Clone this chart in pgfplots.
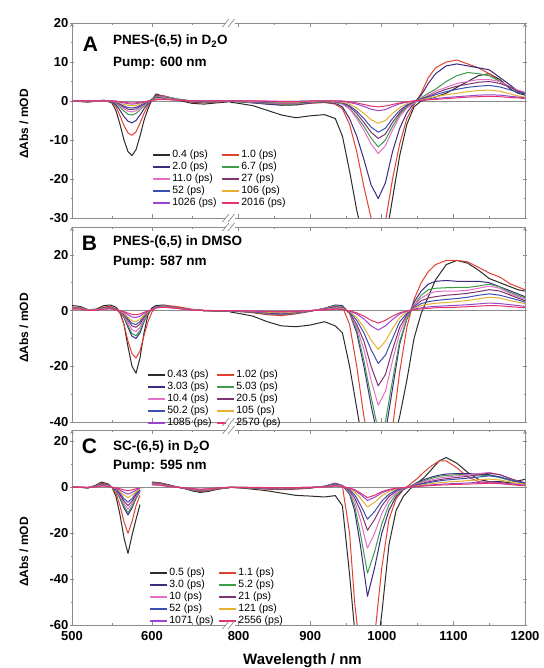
\documentclass[border=0pt]{standalone}
\usepackage{fontspec}
\setmainfont{Liberation Sans}
\usepackage{pgfplots}
\usepackage{pgfplotstable}
\pgfplotsset{compat=1.18}

\definecolor{axisgray}{HTML}{8C8C8C}
\definecolor{sA}{HTML}{2B2B2B}
\definecolor{sB}{HTML}{E2412F}
\definecolor{sC}{HTML}{3B2A80}
\definecolor{sD}{HTML}{3E9B4A}
\definecolor{sE}{HTML}{E56FC8}
\definecolor{sF}{HTML}{7E3470}
\definecolor{sG}{HTML}{3A4FB0}
\definecolor{sH}{HTML}{E6B030}
\definecolor{sI}{HTML}{9A45D0}
\definecolor{sJ}{HTML}{E4336F}

% panel A: PNES-(6,5) in D2O
\pgfplotstableread[row sep=\\]{
wl a b c d e f g h i j \\
500 0 0 0 0 0 0 0 0 0 0 \\
520 -0.3 -0.2 -0.1 -0.1 0 0 0 0 0 0 \\
540 0.2 0.2 0.1 0.1 0.1 0.1 0.1 0 0 0 \\
550 -0.5 -0.3 -0.2 -0.1 -0.1 0 0 0 0 0 \\
555 -2.5 -1.5 -1 -0.6 -0.5 -0.4 -0.3 -0.2 -0.1 0 \\
560 -6 -3.8 -2.4 -1.6 -1.2 -0.9 -0.8 -0.5 -0.3 -0.2 \\
565 -10 -6.3 -4 -2.6 -2 -1.6 -1.3 -0.9 -0.5 -0.3 \\
570 -13 -8.2 -5.2 -3.4 -2.6 -2.1 -1.7 -1.1 -0.7 -0.45 \\
575 -14 -8.8 -5.6 -3.6 -2.8 -2.2 -1.8 -1.2 -0.8 -0.5 \\
580 -12.5 -7.9 -5 -3.2 -2.5 -2 -1.6 -1.1 -0.7 -0.45 \\
585 -9 -5.7 -3.6 -2.3 -1.8 -1.4 -1.2 -0.8 -0.5 -0.3 \\
590 -5 -3.2 -2 -1.3 -1 -0.8 -0.6 -0.4 -0.3 -0.2 \\
595 -2 -1.2 -0.7 -0.4 -0.3 -0.2 -0.2 -0.1 -0.1 0 \\
600 0.3 0.4 0.5 0.5 0.4 0.4 0.3 0.2 0.1 0.1 \\
605 1.8 1.5 1.3 1.2 1 0.9 0.8 0.6 0.4 0.3 \\
615 1.2 1.3 1.2 1.2 1.1 1 0.9 0.8 0.6 0.4 \\
630 0.3 0.5 0.5 0.6 0.5 0.4 0.4 0.3 0.2 0.2 \\
650 -0.6 -0.3 -0.2 0 0 0 0 0 0 0 \\
665 -0.8 -0.5 -0.3 -0.3 -0.2 -0.1 -0.1 0 0 0 \\
680 -0.5 -0.3 -0.2 -0.2 -0.1 0 0 0 0 0 \\
697 -0.2 0 0 0 0 0 0 0 0 0 \\
740 nan nan nan nan nan nan nan nan nan nan \\
788 -0.3 0 0 0 0 0 0 0 0 0 \\
800 -0.6 -0.2 -0.2 -0.2 -0.1 -0.1 -0.1 0 0 0 \\
820 -1.2 -0.4 -0.5 -0.4 -0.3 -0.2 -0.2 -0.1 0 0 \\
840 -2.4 -0.8 -0.8 -0.6 -0.5 -0.4 -0.3 -0.2 -0.1 0 \\
860 -3.6 -1 -1.1 -0.8 -0.6 -0.5 -0.4 -0.3 -0.1 -0.1 \\
880 -4.3 -1 -1 -0.8 -0.6 -0.5 -0.4 -0.3 -0.1 -0.1 \\
900 -3.8 -0.6 -0.5 -0.4 -0.3 -0.2 -0.2 -0.1 0 0 \\
920 -3.5 -0.4 -0.3 -0.2 -0.1 0 0 0 0 0 \\
935 -4.5 -0.8 -0.6 -0.4 -0.3 -0.2 -0.1 -0.1 0 0 \\
945 -9 -2 -1.5 -0.8 -0.7 -0.5 -0.4 -0.3 -0.1 0 \\
955 -18 -6 -4.5 -2 -2 -1.5 -1.2 -0.8 -0.4 -0.2 \\
965 -28 -13 -9 -4 -4.5 -3.2 -2.6 -1.8 -0.8 -0.5 \\
975 -36 -22 -15 -6.5 -7.5 -5.5 -4.5 -3.2 -1.4 -0.9 \\
985 -40 -30 -21.5 -9.5 -11 -8 -6.7 -4.8 -2.1 -1.3 \\
995 -40 -36 -25 -11.8 -13.5 -9.6 -8 -5.7 -2.5 -1.5 \\
1005 -36 -31 -21 -10 -11.5 -8.5 -7 -5 -2.2 -1.3 \\
1015 -25 -20 -13 -6.5 -7.5 -5.5 -4.5 -3.2 -1.4 -0.9 \\
1025 -14 -11 -7 -3.5 -4 -3 -2.4 -1.7 -0.7 -0.5 \\
1035 -6 -4.5 -3 -1.5 -1.8 -1.2 -1 -0.7 -0.3 -0.2 \\
1045 -1.5 -1 -0.5 -0.3 -0.5 -0.2 -0.1 0 0 0 \\
1055 0 2 1.5 0.8 0.5 0.5 0.4 0.3 0.2 0.1 \\
1065 0.5 6 4.5 2 1.5 1.2 1 0.7 0.4 0.3 \\
1075 1 8.5 7 3 2.5 2 1.6 1.1 0.6 0.4 \\
1090 2 10 9 5 3.5 3 2.4 1.6 0.9 0.6 \\
1105 3.5 10.5 9.5 6.5 4.5 3.8 3 2 1.1 0.8 \\
1120 5 9.5 9 7.3 5 4.3 3.5 2.4 1.3 1 \\
1135 6.5 8.5 8.5 7 5.5 4.8 3.8 2.7 1.5 1.1 \\
1150 7 7 8 6.5 5.5 5 4 2.8 1.6 1.2 \\
1165 5.5 5 6 5 5 4.5 3.6 2.5 1.5 1.1 \\
1180 3 3.5 4 3.5 3.5 3.5 2.8 1.8 1.2 0.9 \\
1190 2 2.5 2.5 2.5 2.8 2.5 2.2 1.3 1 0.8 \\
1200 1.5 2 2 2 2.2 2 1.8 1 0.8 0.6 \\
}\tabA

% panel B: PNES-(6,5) in DMSO
\pgfplotstableread[row sep=\\]{
wl a b c d e f g h i j \\
500 1.8 1.2 1 1 0.9 0.8 0.8 0.7 0.6 0.5 \\
510 1.5 1.2 1 1 0.9 0.8 0.8 0.7 0.6 0.5 \\
520 0.3 0.3 0.3 0.3 0.2 0.2 0.2 0.2 0.1 0.1 \\
530 0.5 0.4 0.3 0.3 0.3 0.2 0.2 0.2 0.1 0.1 \\
540 1.8 1.3 1 1 0.9 0.8 0.8 0.7 0.6 0.5 \\
548 2 1.5 1.2 1.1 1 0.9 0.9 0.8 0.7 0.6 \\
555 1.2 0.6 0.5 0.5 0.4 0.4 0.4 0.3 0.3 0.2 \\
560 -0.5 -1 -0.5 -0.45 -0.4 -0.3 -0.25 -0.2 -0.1 -0.1 \\
565 -5 -5 -2.5 -2.2 -1.9 -1.5 -1.2 -1 -0.6 -0.4 \\
570 -13 -11 -6 -5.4 -4.5 -3.6 -3 -2.4 -1.5 -0.9 \\
575 -20 -15.5 -9.2 -8.3 -6.9 -5.5 -4.6 -3.7 -2.3 -1.4 \\
580 -22.5 -17 -10 -9 -7.5 -6 -5 -4 -2.5 -1.5 \\
585 -17 -14.5 -8 -7.2 -6 -4.8 -4 -3.2 -2 -1.2 \\
590 -8 -9 -4 -3.6 -3 -2.4 -2 -1.6 -1 -0.6 \\
595 -1.5 -4 -1 -0.9 -0.7 -0.6 -0.5 -0.4 -0.3 -0.2 \\
600 1 -0.5 0.5 0.5 0.5 0.5 0.5 0.4 0.4 0.3 \\
605 1.8 1.2 1.4 1.4 1.3 1.2 1.2 1.1 1 0.9 \\
615 2 1.8 1.7 1.7 1.6 1.5 1.5 1.4 1.3 1.2 \\
630 1.2 1.5 1.1 1.1 1 1 0.9 0.9 0.8 0.8 \\
650 0.3 0.5 0.3 0.3 0.3 0.3 0.3 0.3 0.2 0.2 \\
665 0 0.1 0 0 0 0 0 0 0 0 \\
680 -0.2 0 -0.1 -0.1 0 0 0 0 0 0 \\
697 -0.3 -0.2 -0.2 -0.2 -0.1 -0.1 0 0 0 0 \\
740 nan nan nan nan nan nan nan nan nan nan \\
788 -0.5 0 0 0 0 0 0 0 0 0 \\
800 -1 -0.3 -0.3 -0.3 -0.2 -0.2 -0.2 -0.1 -0.1 -0.1 \\
820 -2 -0.8 -0.6 -0.6 -0.5 -0.5 -0.4 -0.3 -0.2 -0.1 \\
840 -4 -1.5 -1.2 -1.1 -1 -0.9 -0.8 -0.6 -0.4 -0.3 \\
860 -5.5 -1.8 -1.5 -1.4 -1.3 -1.2 -1 -0.8 -0.5 -0.4 \\
880 -5.8 -1.2 -1 -0.9 -0.8 -0.7 -0.6 -0.5 -0.3 -0.2 \\
900 -5.2 -0.3 -0.2 -0.2 -0.1 -0.1 -0.1 0 0 0 \\
920 -4 0.8 0.8 0.7 0.7 0.6 0.5 0.4 0.3 0.2 \\
935 -5.5 1.8 2 1.8 1.5 1.4 1.2 1 0.7 0.5 \\
945 -8 1.5 1.8 1.5 1.2 1.1 1 0.8 0.5 0.4 \\
955 -20 -5 -1 -1 -1 -0.8 -0.5 -0.3 -0.2 -0.1 \\
965 -35 -20 -8 -7 -6 -5 -3.5 -2.5 -1.2 -0.8 \\
975 -50 -38 -20 -18 -14 -11 -8 -6 -3 -2 \\
985 -60 -52 -34 -31 -25 -20 -14 -10.5 -5.5 -3.5 \\
995 -62 -58 -46 -43 -34 -27 -19 -14 -7 -4.5 \\
1005 -60 -55 -44 -40 -29 -23 -16 -11 -5.5 -3.5 \\
1015 -48 -42 -28 -25 -18 -14 -10 -6.5 -3.2 -2 \\
1025 -38 -22 -12 -11 -8 -6 -4 -2.5 -1.2 -0.8 \\
1035 -25 -6 -3 -3 -2 -1.5 -1 -0.5 -0.2 -0.1 \\
1045 -10 4 3 2 2 1.5 1 0.8 0.5 0.3 \\
1055 -1 10 7 5.5 4.5 3.5 2.5 1.8 1 0.6 \\
1065 5 14 9.5 7.5 6 4.5 3.2 2.3 1.3 0.8 \\
1075 11 16.5 10.5 8 6.8 5 3.6 2.6 1.5 1 \\
1090 16.5 18 10.8 8.2 7 5.5 4 2.9 1.7 1.1 \\
1105 18 18 10.5 8.3 7 5.8 4.3 3.2 1.9 1.2 \\
1120 17 17.5 10.5 8.3 7.3 6.2 4.8 3.6 2.1 1.4 \\
1135 14.5 15.5 10.5 8.8 8 6.8 5.5 4.2 2.4 1.6 \\
1150 11.5 13.5 10 9.5 8.8 7.5 6 4.8 2.7 1.8 \\
1165 10 12 8.5 8.5 8 7 5.5 4.5 2.5 1.7 \\
1180 8.5 9.5 7 6.5 6 5.5 4.5 3.5 2.1 1.4 \\
1190 7.5 8.5 6 5.5 5 4.5 3.8 3 1.8 1.2 \\
1200 7 7.5 5 4.5 4 3.5 3 2.5 1.5 1 \\
}\tabB

% panel C: SC-(6,5) in D2O
\pgfplotstableread[row sep=\\]{
wl a b c d e f g h i j \\
500 0.3 0.2 0.1 0.1 0.1 0 0 0 0 0 \\
510 0 0 0 0 0 0 0 0 0 0 \\
520 -0.3 -0.2 -0.1 -0.1 -0.1 -0.1 -0.1 0 0 0 \\
530 1 0.8 0.7 0.6 0.6 0.5 0.5 0.4 0.3 0.2 \\
537 2.3 1.8 1.5 1.4 1.3 1.2 1.1 1 0.8 0.6 \\
545 1.5 1.2 1 0.9 0.8 0.8 0.7 0.6 0.5 0.4 \\
550 0 0 0 0 0 0 0 0 0 0 \\
555 -4 -2.5 -1.4 -1.3 -1.1 -1 -0.8 -0.5 -0.4 -0.2 \\
560 -12 -8 -4.8 -4.4 -3.8 -3.2 -2.6 -1.8 -1.2 -0.6 \\
565 -22 -15 -9 -8.3 -7.1 -6 -4.9 -3.4 -2.2 -1.1 \\
570 -28.8 -20 -12 -11 -9.5 -8 -6.5 -4.5 -3 -1.5 \\
575 -21 -15 -9 -8.3 -7.1 -6 -4.9 -3.4 -2.2 -1.1 \\
580 -14 -8 -4.8 -4.4 -3.8 -3.2 -2.6 -1.8 -1.2 -0.6 \\
585 -7.5 -3.5 -1.8 -1.6 -1.4 -1.2 -1 -0.7 -0.4 -0.2 \\
592 nan nan nan nan nan nan nan nan nan nan \\
600 2.3 2.2 2 1.9 1.8 1.7 1.6 1.5 1.3 1.1 \\
610 2 1.9 1.7 1.6 1.5 1.4 1.3 1.2 1 0.9 \\
620 1.2 1.1 1 0.9 0.8 0.8 0.7 0.6 0.5 0.4 \\
630 0.3 0.3 0.2 0.2 0.2 0.2 0.1 0.1 0.1 0 \\
640 -0.5 -0.4 -0.4 -0.3 -0.3 -0.3 -0.3 -0.2 -0.2 -0.2 \\
650 -1.5 -1.2 -1.1 -1 -0.9 -0.8 -0.8 -0.7 -0.6 -0.5 \\
660 -2.2 -1.8 -1.6 -1.5 -1.4 -1.3 -1.2 -1.1 -0.9 -0.8 \\
670 -1.8 -1.5 -1.3 -1.2 -1.1 -1 -1 -0.9 -0.7 -0.6 \\
680 -1 -0.8 -0.7 -0.6 -0.6 -0.5 -0.5 -0.4 -0.3 -0.3 \\
690 -0.4 -0.3 -0.3 -0.2 -0.2 -0.2 -0.2 -0.1 -0.1 -0.1 \\
697 -0.2 -0.1 0 0 0 0 0 0 0 0 \\
740 nan nan nan nan nan nan nan nan nan nan \\
788 0 0 0 0 0 0 0 0 0 0 \\
800 -0.2 -0.1 -0.1 -0.1 -0.1 0 0 0 0 0 \\
820 -0.8 -0.4 -0.3 -0.3 -0.2 -0.2 -0.1 -0.1 -0.1 0 \\
840 -1.5 -0.8 -0.6 -0.5 -0.4 -0.4 -0.3 -0.2 -0.2 -0.1 \\
860 -2.5 -1 -0.8 -0.7 -0.6 -0.5 -0.4 -0.3 -0.2 -0.2 \\
880 -3.5 -0.8 -0.6 -0.5 -0.4 -0.4 -0.3 -0.2 -0.1 -0.1 \\
900 -3.8 -0.4 -0.2 -0.2 -0.1 -0.1 0 0 0 0 \\
920 -4.2 0.5 0.5 0.4 0.4 0.3 0.3 0.2 0.2 0.1 \\
935 -3.6 1.8 1.8 1.6 1.5 1.4 1.2 1 0.8 0.6 \\
945 -8 0.5 0.8 0.8 0.8 0.7 0.6 0.5 0.4 0.3 \\
955 -38 -20 -3 -2.5 -2 -1.5 -1 -0.6 -0.4 -0.3 \\
962 -62 -50 -10 -8 -6 -4.5 -3.2 -2 -1.3 -1 \\
970 -80 -72 -25 -20 -14 -10 -7.5 -4.6 -3 -2.4 \\
980 -85 -80 -47.5 -37.4 -26.5 -18.7 -13.9 -8.6 -5.7 -4.5 \\
990 -80 -65 -35 -28 -20 -14 -10.5 -6.5 -4.3 -3.4 \\
1000 -55 -35 -20 -16 -11.5 -8 -6 -3.7 -2.4 -1.9 \\
1010 -25 -14 -10 -7.5 -5.5 -4 -3 -1.8 -1.2 -0.9 \\
1020 -10 -5 -4 -3 -2.2 -1.6 -1.2 -0.7 -0.5 -0.4 \\
1030 -4 -1 -1 -0.8 -0.6 -0.4 -0.3 -0.2 -0.1 -0.1 \\
1040 -0.5 1.5 0.5 0.6 0.5 0.4 0.3 0.2 0.1 0.1 \\
1050 2 4 2.2 1.8 1.5 1.2 1 0.7 0.5 0.4 \\
1060 4.5 7 3.5 3 2.5 2 1.7 1.2 0.8 0.6 \\
1070 8 9.5 4.5 4 3.3 2.7 2.3 1.6 1.1 0.8 \\
1080 11.5 11.5 5.3 4.8 4 3.3 2.8 2 1.3 1 \\
1090 13 11.5 5.8 5.2 4.5 3.8 3.2 2.3 1.5 1.1 \\
1105 10.5 8.5 6 5.5 5 4.3 3.6 2.6 1.7 1.3 \\
1120 6.5 4.5 6 5.5 5.5 4.8 4 2.9 1.9 1.4 \\
1135 3.5 2.5 5.8 5.3 6 5.5 4.5 3.3 2.2 1.6 \\
1150 2.5 2 5.5 5.2 6.5 6.2 5 3.6 2.4 1.8 \\
1165 2.5 1.8 4.5 4.2 5.5 5.5 4.5 3.2 2.1 1.6 \\
1180 2 1.5 3 3 3.5 3.8 3.2 2.3 1.5 1.2 \\
1190 2.8 1.5 2.5 2.4 2.5 2.8 2.4 1.8 1.2 0.9 \\
1200 3.5 1.5 2 2 2 2 1.8 1.3 0.9 0.7 \\
}\tabC

\newcommand{\spectra}[1]{%
  \addplot[sA] table[x=wl,y=a]{#1};
  \addplot[sB] table[x=wl,y=b]{#1};
  \addplot[sC] table[x=wl,y=c]{#1};
  \addplot[sD] table[x=wl,y=d]{#1};
  \addplot[sE] table[x=wl,y=e]{#1};
  \addplot[sF] table[x=wl,y=f]{#1};
  \addplot[sG] table[x=wl,y=g]{#1};
  \addplot[sH] table[x=wl,y=h]{#1};
  \addplot[sI] table[x=wl,y=i]{#1};
  \addplot[sJ] table[x=wl,y=j]{#1};
}

\pgfplotsset{
  spec/.style={
    scale only axis, height=195pt,
    axis x line=box,
    axis line style={-, draw=axisgray, line width=0.8pt},
    every tick/.style={axisgray, line width=0.7pt},
    major tick length=4pt, minor tick length=2.2pt,
    xtick align=inside, ytick align=outside,
    unbounded coords=jump,
    tick label style={font=\fontsize{13}{15}\selectfont\bfseries},
    yticklabel style={inner xsep=1.5pt},
    xticklabel style={yshift=-2.5pt},
    /pgf/number format/assume math mode=true,
    /pgf/number format/set thousands separator={},
    every axis plot/.append style={line width=1pt, line join=round},
    extra y ticks={0}, extra y tick labels={},
    extra y tick style={grid=major, major grid style={axisgray, line width=0.7pt}},
    legend columns=2, legend cell align=left,
    legend style={draw=none, fill=none, font=\fontsize{10.5}{11}\selectfont,
      inner sep=0pt, row sep=0.8pt, column sep=1.5pt, anchor=north west,
      /tikz/every even column/.append style={column sep=5pt},
      nodes={inner sep=0.6pt, text height=7.6pt, text depth=2.4pt}},
    legend image code/.code={\fill[##1] (0pt,-0.75pt) rectangle (16pt,0.75pt);},
  },
  leftax/.style={spec, width=158pt, xmin=500, xmax=697.5, axis y line=left,
    xtick={500,600}, minor xtick={550,650}},
  rightax/.style={spec, width=295pt, xmin=788, xmax=1200, axis y line=right,
    xtick={800,900,1000,1100,1200}, minor xtick={850,950,1050,1150}, yticklabels={}},
}

\newcommand{\brk}[1]{%
  \fill[white] (225.5,#1-3.2) rectangle (234.5,#1+3.2);
  \draw[axisgray, line width=0.7pt] (222.5,#1-4) -- (229,#1+4) (228,#1-4) -- (234.5,#1+4);}

\begin{document}
\begin{tikzpicture}[x=1pt,y=1pt]
\useasboundingbox (0,0) rectangle (543,668);

% ---- A ----
\begin{axis}[leftax, at={(72pt,450pt)}, anchor=south west, ymin=-30, ymax=20,
  ytick={-30,-20,...,20}, minor ytick={-25,-15,...,15}, xticklabels={}]
\spectra{\tabA}
\end{axis}
\begin{axis}[rightax, at={(230pt,450pt)}, anchor=south west, ymin=-30, ymax=20,
  ytick={-30,-20,...,20}, minor ytick={-25,-15,...,15}, xticklabels={},
  legend style={at={(-0.261,0.354)}},
  legend entries={0.4 (ps),1.0 (ps),2.0 (ps),6.7 (ps),11.0 (ps),27 (ps),52 (ps),106 (ps),1026 (ps),2016 (ps)}]
\spectra{\tabA}
\end{axis}

% ---- B ----
\begin{axis}[leftax, at={(72pt,246pt)}, anchor=south west, ymin=-40, ymax=30,
  ytick={-40,-20,0,20}, minor ytick={-30,-10,10}, xticklabels={}]
\spectra{\tabB}
\end{axis}
\begin{axis}[rightax, at={(230pt,246pt)}, anchor=south west, ymin=-40, ymax=30,
  ytick={-40,-20,0,20}, minor ytick={-30,-10,10}, xticklabels={},
  legend style={at={(-0.278,0.272)}},
  legend entries={0.43 (ps),1.02 (ps),3.03 (ps),5.03 (ps),10.4 (ps),20.5 (ps),50.2 (ps),105 (ps),1085 (ps),2570 (ps)}]
\spectra{\tabB}
\end{axis}

% ---- C ----
\begin{axis}[leftax, at={(72pt,43pt)}, anchor=south west, ymin=-60, ymax=25,
  ytick={-60,-40,-20,0,20}, minor ytick={-50,-30,-10,10}]
\spectra{\tabC}
\end{axis}
\begin{axis}[rightax, at={(230pt,43pt)}, anchor=south west, ymin=-60, ymax=25,
  ytick={-60,-40,-20,0,20}, minor ytick={-50,-30,-10,10},
  legend style={at={(-0.271,0.297)}},
  legend entries={0.5 (ps),1.1 (ps),3.0 (ps),5.2 (ps),10 (ps),21 (ps),52 (ps),121 (ps),1071 (ps),2556 (ps)}]
\spectra{\tabC}
\end{axis}

% axis breaks
\brk{645}\brk{450}\brk{441}\brk{246}\brk{238}\brk{43}

% panel labels and titles
\begin{scope}[every node/.style={inner sep=0pt}]
\node[font=\fontsize{21}{24}\selectfont\bfseries] at (90.5,623.5) {A};
\node[anchor=base west, font=\fontsize{13.5}{16}\selectfont\bfseries] at (113,623) {PNES-(6,5) in D\textsubscript{2}O};
\node[anchor=base west, font=\fontsize{13.5}{16}\selectfont\bfseries] at (113,601) {Pump: 600 nm};
\node[font=\fontsize{21}{24}\selectfont\bfseries] at (89.5,424.5) {B};
\node[anchor=base west, font=\fontsize{13.5}{16}\selectfont\bfseries] at (113,422) {PNES-(6,5) in DMSO};
\node[anchor=base west, font=\fontsize{13.5}{16}\selectfont\bfseries] at (113,402) {Pump: 587 nm};
\node[font=\fontsize{21}{24}\selectfont\bfseries] at (89.5,222) {C};
\node[anchor=base west, font=\fontsize{13.5}{16}\selectfont\bfseries] at (113,217) {SC-(6,5) in D\textsubscript{2}O};
\node[anchor=base west, font=\fontsize{13.5}{16}\selectfont\bfseries] at (113,198) {Pump: 595 nm};
% axis titles
\node[rotate=90, font=\fontsize{12}{14}\selectfont\bfseries] at (24,544) {ΔAbs / mOD};
\node[rotate=90, font=\fontsize{12}{14}\selectfont\bfseries] at (24,340) {ΔAbs / mOD};
\node[rotate=90, font=\fontsize{12}{14}\selectfont\bfseries] at (24,116) {ΔAbs / mOD};
\node[anchor=base, font=\fontsize{15}{17}\selectfont\bfseries] at (302.5,3) {Wavelength / nm};
\end{scope}
\end{tikzpicture}
\end{document}
